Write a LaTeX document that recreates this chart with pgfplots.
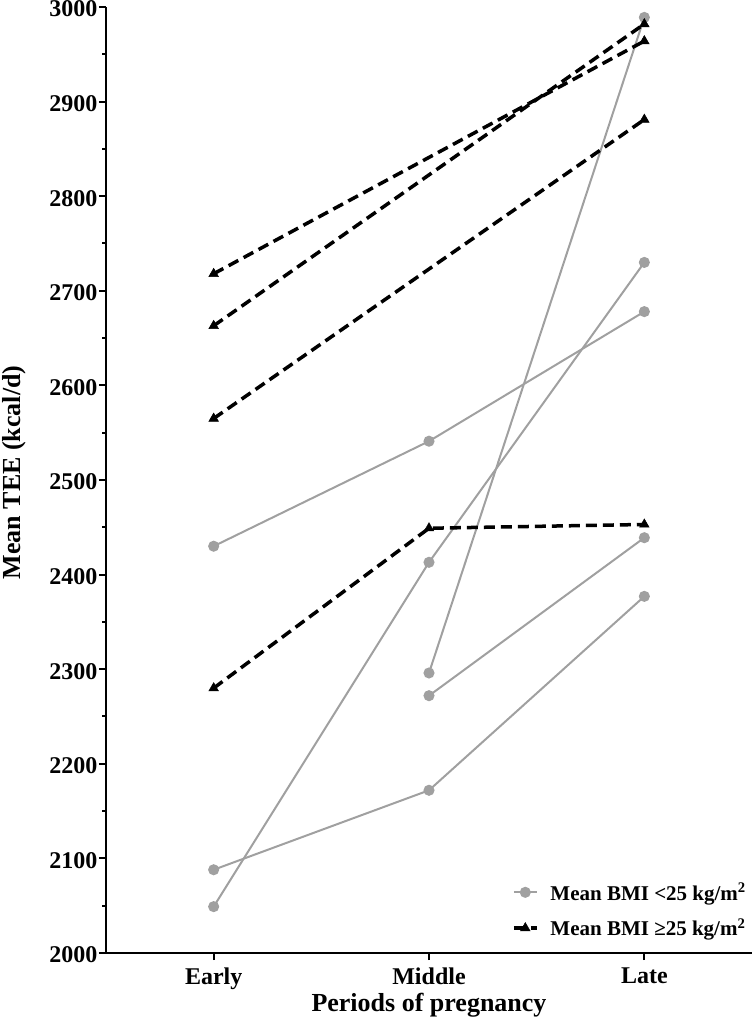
\documentclass[border=0pt]{standalone}
\usepackage{fontspec}
\setmainfont{Liberation Serif}
\usepackage{pgfplots}
\pgfplotsset{compat=1.18}
\definecolor{lgray}{RGB}{160,160,160}
\begin{document}
\begin{tikzpicture}
\path[use as bounding box] (-106pt,-78pt) rectangle (646pt,953pt);
\begin{axis}[
  scale only axis, width=646pt, height=946pt,
  xmin=-0.5, xmax=2.5, ymin=2000, ymax=3000,
  axis x line*=bottom, axis y line*=left,
  xtick pos=left, ytick pos=left,
  xtick={0,1,2}, xticklabels={Early,Middle,Late},
  ytick={2000,2100,...,3000},
  minor y tick num=1,
  tick align=outside,
  major tick length=7pt, minor tick length=3.5pt,
  every tick/.style={black, line width=2pt},
  axis line style={black, line width=2.2pt},
  ticklabel style={font=\fontsize{24}{28}\selectfont\bfseries},
  yticklabel style={inner xsep=1.5pt, inner ysep=0pt, yshift=-2pt},
  xticklabel style={yshift=-4pt},
  /pgf/number format/assume math mode=true,
  /pgf/number format/set thousands separator={},
  ylabel={Mean TEE (kcal/d)},
  ylabel style={font=\fontsize{26}{30}\selectfont\bfseries, at={(axis description cs:-0.1425,0.508)}, anchor=center},
  xlabel={Periods of pregnancy},
  xlabel style={font=\fontsize{26}{30}\selectfont\bfseries, at={(axis description cs:0.5,-0.0555)}, anchor=center},
  clip=false,
  legend image code/.code={\draw[mark repeat=2,mark phase=2] plot coordinates {(0cm,0cm) (0.4cm,0cm) (0.8cm,0cm)};},
  legend style={at={(axis description cs:0.9985,0.012)}, anchor=south east, draw=none, fill=none,
    font=\fontsize{21}{25}\selectfont\bfseries, row sep=13pt, column sep=10pt},
  legend cell align=left,
  gline/.style={color=lgray, line width=2pt, mark=*, mark size=4.5pt, mark options={solid, fill=lgray, draw=lgray}},
  dline/.style={color=black, line width=3.5pt, dash pattern=on 11pt off 6pt, mark=triangle*, mark size=5.5pt, mark options={solid, fill=black, draw=black, line width=0.5pt}},
]
% BMI < 25
\addplot[gline] coordinates {(0,2430) (1,2541) (2,2678)};
\addlegendentry{Mean BMI <25 kg/m\textsuperscript{2}}
\addplot[gline, forget plot] coordinates {(0,2088) (1,2172) (2,2377)};
\addplot[gline, forget plot] coordinates {(0,2049) (1,2413) (2,2730)};
\addplot[gline, forget plot] coordinates {(1,2296) (2,2989)};
\addplot[gline, forget plot] coordinates {(1,2272) (2,2439)};
% BMI >= 25
\addplot[dline] coordinates {(0,2718) (2,2964)};
\addlegendentry{Mean BMI ≥25 kg/m\textsuperscript{2}}
\addplot[dline, forget plot] coordinates {(0,2663) (2,2982)};
\addplot[dline, forget plot] coordinates {(0,2565) (2,2881)};
\addplot[dline, forget plot] coordinates {(0,2280) (1,2449) (2,2453)};
\end{axis}
\end{tikzpicture}
\end{document}
